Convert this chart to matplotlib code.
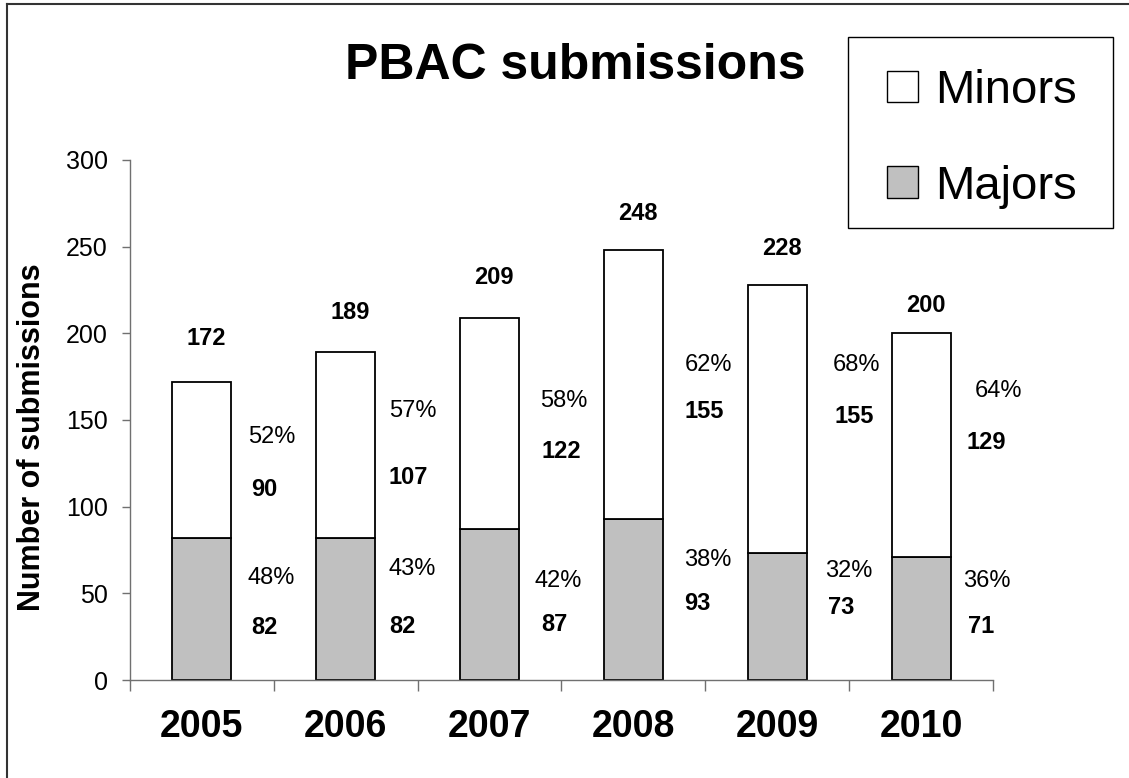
import matplotlib
matplotlib.use("Agg")
import matplotlib.pyplot as plt
import numpy as np
from matplotlib.patches import Patch, Rectangle
from matplotlib.lines import Line2D

# ---- data ----
years = ['2005', '2006', '2007', '2008', '2009', '2010']
majors = [82, 82, 87, 93, 73, 71]
minors = [90, 107, 122, 155, 155, 129]
totals = [172, 189, 209, 248, 228, 200]
minor_pct = ['52%', '57%', '58%', '62%', '68%', '64%']
major_pct = ['48%', '43%', '42%', '38%', '32%', '36%']

# ---- label layout (hand-placed in the original) ----
total_y = [197, 212, 232, 269, 249, 216]
minor_pct_y = [140, 155, 161, 182, 182, 167]
minor_val_y = [110, 117, 132, 155, 152, 137]
major_pct_y = [59, 64, 57, 69, 63, 57]
major_val_y = [30, 31, 32, 44, 42, 31]
minor_pct_dx = [0.32, 0.30, 0.354, 0.354, 0.389, 0.375]
minor_val_dx = [0.34, 0.30, 0.361, 0.354, 0.396, 0.319]
major_pct_dx = [0.32, 0.30, 0.313, 0.354, 0.333, 0.292]
major_val_dx = [0.34, 0.30, 0.361, 0.354, 0.354, 0.326]

plt.rcParams['font.family'] = ['Liberation Sans', 'DejaVu Sans']

W, H = 1129, 778
fig = plt.figure(figsize=(W / 100, H / 100), dpi=100)
ax = fig.add_axes([130 / W, 1 - 680 / H, 863 / W, 520 / H])

x = np.arange(len(years))
bw = 0.41
ax.bar(x, majors, bw, color='#C0C0C0', edgecolor='black', linewidth=1.3, label='Majors', zorder=2)
ax.bar(x, minors, bw, bottom=majors, color='white', edgecolor='black', linewidth=1.3, label='Minors', zorder=2)

ax.set_xlim(-0.5, len(years) - 0.5)
ax.set_ylim(0, 300)
ax.set_yticks([0, 50, 100, 150, 200, 250, 300])
ax.tick_params(axis='y', labelsize=18, length=6, width=1, color='#707070', pad=10)
ax.set_xticks(x)
ax.set_xticklabels(years, fontsize=27, fontweight='bold')
ax.set_xticks(np.arange(-0.5, len(years)), minor=True)
ax.tick_params(axis='x', which='major', length=0, pad=21)
ax.tick_params(axis='x', which='minor', length=8, width=1, color='#707070')
for s in ['top', 'right']:
    ax.spines[s].set_visible(False)
for s in ['left', 'bottom']:
    ax.spines[s].set_color('#707070')
    ax.spines[s].set_linewidth(1)

ax.set_ylabel('Number of submissions', fontsize=22, fontweight='bold')
ax.yaxis.set_label_coords(-0.096, 0.467)

lab_fs = 17
for i in range(len(years)):
    ax.text(x[i] + 0.03, total_y[i], str(totals[i]), ha='center', va='center', fontsize=lab_fs, fontweight='bold')
    ax.text(x[i] + minor_pct_dx[i], minor_pct_y[i], minor_pct[i], ha='left', va='center', fontsize=lab_fs)
    ax.text(x[i] + minor_val_dx[i], minor_val_y[i], str(minors[i]), ha='left', va='center', fontsize=lab_fs, fontweight='bold')
    ax.text(x[i] + major_pct_dx[i], major_pct_y[i], major_pct[i], ha='left', va='center', fontsize=lab_fs)
    ax.text(x[i] + major_val_dx[i], major_val_y[i], str(majors[i]), ha='left', va='center', fontsize=lab_fs, fontweight='bold')

fig.text(575 / W, 1 - 79 / H, 'PBAC submissions', ha='center', va='baseline', fontsize=36, fontweight='bold')

# legend (frame drawn separately to match the original box)
handles = [Patch(facecolor='white', edgecolor='black', linewidth=1),
           Patch(facecolor='#C0C0C0', edgecolor='black', linewidth=1)]
leg = fig.legend(handles, ['Minors', 'Majors'], loc='upper left',
                 bbox_to_anchor=(887 / W, 1 - 69 / H), bbox_transform=fig.transFigure,
                 fontsize=34, handlelength=0.66, handleheight=0.66, handletextpad=0.35,
                 labelspacing=1.1, borderpad=0, borderaxespad=0, frameon=False)
fig.add_artist(Rectangle((848 / W, 1 - 228 / H), 265 / W, 191 / H, transform=fig.transFigure,
                         facecolor='none', edgecolor='black', linewidth=1))

# figure border (left and top visible)
fig.add_artist(Line2D([7 / W, 7 / W], [0, 1 - 4 / H], transform=fig.transFigure, color='#333333', linewidth=1.5))
fig.add_artist(Line2D([7 / W, 1], [1 - 4 / H, 1 - 4 / H], transform=fig.transFigure, color='#333333', linewidth=1.5))

fig.savefig('out.png', dpi=100)
